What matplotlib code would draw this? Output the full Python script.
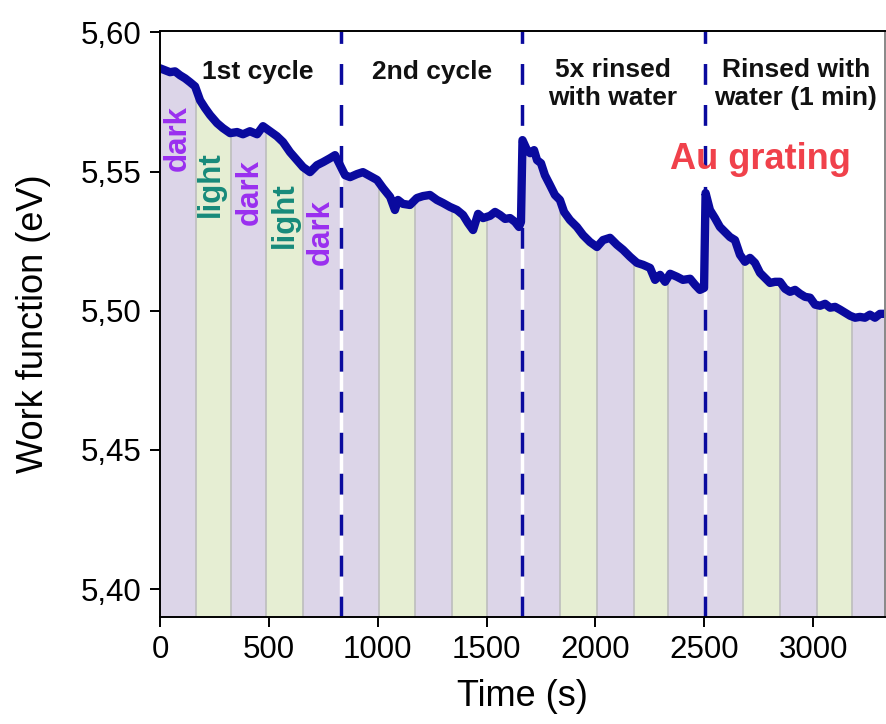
import matplotlib
matplotlib.use("Agg")
import matplotlib.pyplot as plt
from matplotlib.ticker import FuncFormatter

plt.rcParams['font.family'] = ['Liberation Sans', 'DejaVu Sans']

# measured work function trace (time in s, work function in eV)
time_s = [
    0, 23, 46, 69, 92, 115, 138, 161, 184, 207, 230, 262, 289, 322, 354, 381,
    413, 446, 473, 505, 537, 565, 597, 629, 657, 689, 721, 749, 781, 804, 827,
    850, 873, 905, 932, 965, 997, 1024, 1057, 1079, 1093, 1116, 1148, 1180,
    1208, 1240, 1272, 1300, 1332, 1364, 1392, 1415, 1438, 1461, 1484, 1516,
    1539, 1562, 1585, 1608, 1631, 1649, 1658,
    1665, 1686, 1700, 1718, 1732, 1750, 1768, 1791, 1814, 1837, 1856, 1883,
    1915, 1943, 1975, 2007, 2035, 2067, 2099, 2127, 2159, 2191, 2219, 2251,
    2274, 2297, 2320, 2343, 2375, 2402, 2435, 2458, 2480, 2499,
    2506, 2526, 2549, 2572, 2595, 2618, 2641, 2664, 2687, 2710, 2733, 2756,
    2779, 2802, 2825, 2848, 2871, 2894, 2917, 2940, 2963, 2986, 3009, 3032,
    3055, 3078, 3101, 3124, 3147, 3170, 3193, 3215, 3238, 3261, 3284, 3307,
    3330,
]
work_function = [
    5.5871, 5.5864, 5.5857, 5.5860, 5.5846, 5.5835, 5.5821, 5.5806, 5.5756,
    5.5728, 5.5703, 5.5674, 5.5656, 5.5638, 5.5642, 5.5634, 5.5645, 5.5634,
    5.5663, 5.5645, 5.5627, 5.5606, 5.5570, 5.5541, 5.5516, 5.5498, 5.5523,
    5.5534, 5.5548, 5.5559, 5.5523,
    5.5487, 5.5480, 5.5491, 5.5498, 5.5484, 5.5470, 5.5441, 5.5409, 5.5362,
    5.5398, 5.5384, 5.5380, 5.5405, 5.5412, 5.5416, 5.5398, 5.5387, 5.5373,
    5.5362, 5.5344, 5.5315, 5.5290, 5.5348, 5.5333, 5.5341, 5.5355, 5.5344,
    5.5330, 5.5333, 5.5319, 5.5301, 5.5319,
    5.5613, 5.5577, 5.5566, 5.5577, 5.5541, 5.5530, 5.5487, 5.5452, 5.5416,
    5.5398, 5.5355, 5.5326, 5.5301, 5.5272, 5.5247, 5.5229, 5.5254, 5.5262,
    5.5237, 5.5219, 5.5194, 5.5172, 5.5165, 5.5154, 5.5111, 5.5129, 5.5104,
    5.5133, 5.5122, 5.5111, 5.5115, 5.5093, 5.5075, 5.5082,
    5.5423, 5.5362, 5.5333, 5.5301, 5.5283, 5.5265, 5.5254, 5.5201, 5.5176,
    5.5190, 5.5172, 5.5136, 5.5118, 5.5100, 5.5104, 5.5104, 5.5079, 5.5068,
    5.5075, 5.5061, 5.5050, 5.5047, 5.5022, 5.5018, 5.5025, 5.5011, 5.5014,
    5.5004, 5.4993, 5.4982, 5.4975, 5.4978, 5.4975, 5.4986, 5.4975, 5.4989,
    5.4989,
]

# illumination bands (dark / light) and treatment boundaries
band_edges = [0, 163, 328, 487, 655, 833, 1005, 1173, 1342, 1500, 1662,
              1838, 2009, 2177, 2335, 2502, 2678, 2847, 3019, 3177, 3340]
band_kinds = ["dark", "light", "dark", "light", "dark"] * 4
section_edges = [833, 1665, 2502]
section_labels = ["1st cycle", "2nd cycle", "5x rinsed\nwith water", "Rinsed with\nwater (1 min)"]
section_label_x = [448, 1250, 2080, 2920]

band_labels = ["dark", "light", "dark", "light", "dark"]
band_label_x = [83, 234, 413, 574, 740]
band_label_y = [5.5620, 5.5455, 5.5427, 5.5344, 5.5283]

XMIN, XMAX = 0, 3330
YMIN, YMAX = 5.3900, 5.6005

colors = {"dark": "#dcd5e8", "light": "#e6eed3"}
label_colors = {"dark": "#9a2ff0", "light": "#178a7a"}
line_color = "#0a0a9e"

fig = plt.figure(figsize=(8.87, 7.24), dpi=100)
ax = fig.add_axes([0.1804, 0.1478, 0.8173, 0.8094])

for i, kind in enumerate(band_kinds):
    ax.axvspan(band_edges[i], band_edges[i + 1], color=colors[kind], lw=0, zorder=0)
for e in band_edges[1:-1]:
    ax.axvline(e, color="#bdbdbd", lw=1.2, zorder=1)

# blank out everything above the trace
ax.fill_between(time_s, work_function, YMAX + 0.01, color="white", lw=0, zorder=2)

for e in section_edges:
    ax.axvline(e, color="white", lw=2.5, zorder=3)
    ax.axvline(e, color=line_color, lw=2.5, ls=(0, (6, 5.8)), zorder=4)

ax.plot(time_s, work_function, color=line_color, lw=6, solid_joinstyle="round",
        solid_capstyle="round", zorder=5)

for x, s in zip(section_label_x, section_labels):
    ax.text(x, 5.5815 if "\n" in s else 5.5857, s, ha="center", va="center",
            fontsize=19, fontweight="bold", color="#111111", linespacing=1.2, zorder=6)

for x, y, s in zip(band_label_x, band_label_y, band_labels):
    ax.text(x, y, s, rotation=90, ha="center", va="center", fontsize=22.5,
            fontweight="bold", color=label_colors[s], zorder=6)

ax.text(2760, 5.5545, "Au grating", ha="center", va="center", fontsize=26,
        fontweight="bold", color="#f0414b", zorder=6)

ax.set_xlim(XMIN, XMAX)
ax.set_ylim(YMIN, YMAX)
ax.set_xticks([0, 500, 1000, 1500, 2000, 2500, 3000])
ax.set_yticks([5.40, 5.45, 5.50, 5.55, 5.60])
ax.yaxis.set_major_formatter(FuncFormatter(lambda v, p: f"{v:.2f}".replace(".", ",")))
ax.tick_params(direction="out", length=7, width=1.4, labelsize=22.5, pad=6)
for sp in ax.spines.values():
    sp.set_linewidth(1.4)
    sp.set_zorder(7)
ax.spines["right"].set_color("#888888")

ax.set_xlabel("Time (s)", fontsize=26, labelpad=10)
ax.set_ylabel("Work function (eV)", fontsize=26, labelpad=22)

fig.savefig("out.png", dpi=100)
